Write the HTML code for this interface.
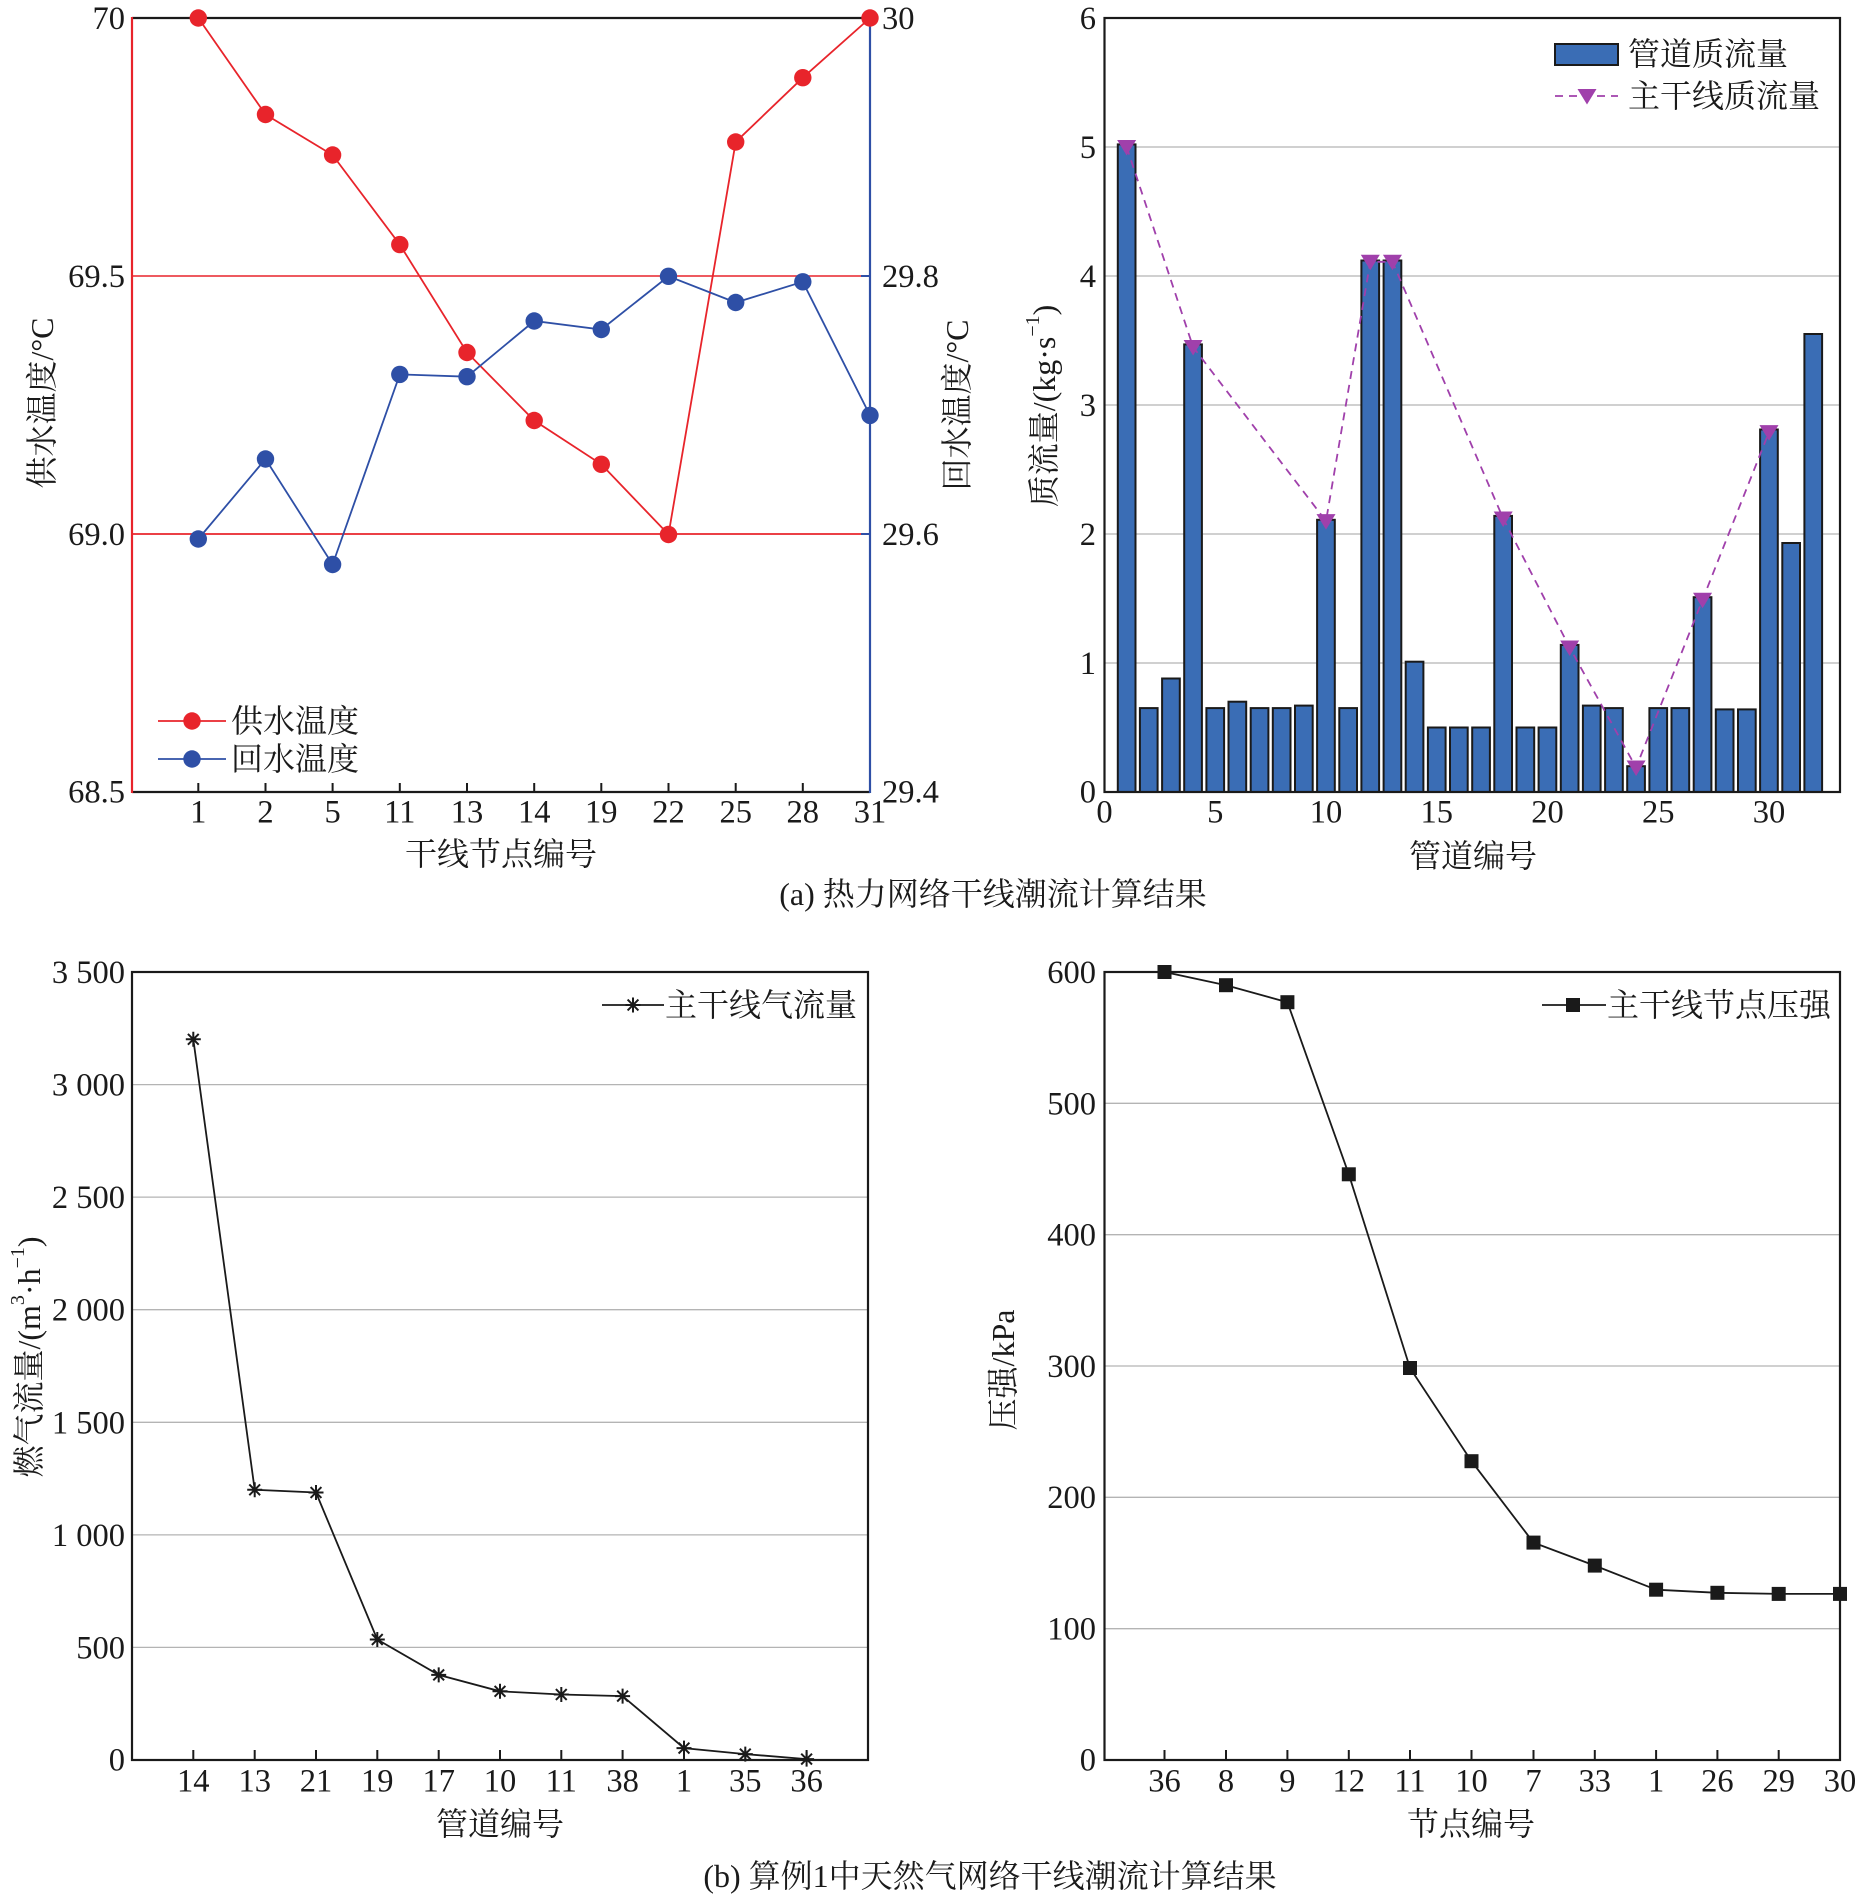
<!DOCTYPE html>
<html><head><meta charset="utf-8"><style>
html,body{margin:0;padding:0;background:#fff}
svg{display:block}
text{font-family:"Liberation Serif","Noto Serif CJK SC",serif;fill:#1a1a1a}
.t{font-size:32.5px}
.c{font-size:32px}
</style></head><body>
<svg width="1871" height="1899" viewBox="0 0 1871 1899" xmlns="http://www.w3.org/2000/svg">
<defs>
<g id="star"><path d="M-7.5 0H7.5M0 -7.5V7.5M-5.4 -5.4L5.4 5.4M-5.4 5.4L5.4 -5.4" stroke="#1a1a1a" stroke-width="2" fill="none"/></g>
<g id="tri"><path d="M-9.5 -7L9.5 -7L0 8.5Z" fill="#a040ab"/></g>
<g id="sq"><rect x="-7" y="-7" width="14" height="14" fill="#1a1a1a"/></g>
</defs>

<!-- ============ TOP-LEFT ============ -->
<g>
<line x1="132" y1="276" x2="862" y2="276" stroke="#e8242b" stroke-width="1.5"/>
<line x1="132" y1="534" x2="862" y2="534" stroke="#e8242b" stroke-width="1.8"/>
<line x1="861" y1="276" x2="870" y2="276" stroke="#2e4fa6" stroke-width="2"/>
<line x1="861" y1="534" x2="870" y2="534" stroke="#2e4fa6" stroke-width="2"/>
<line x1="132" y1="18" x2="870" y2="18" stroke="#1a1a1a" stroke-width="2.2"/>
<line x1="132" y1="792" x2="870" y2="792" stroke="#1a1a1a" stroke-width="2.2"/>
<line x1="132" y1="17" x2="132" y2="793" stroke="#e8242b" stroke-width="2.2"/>
<line x1="870" y1="17" x2="870" y2="793" stroke="#2e4fa6" stroke-width="2.2"/>
<g stroke="#1a1a1a" stroke-width="2">
<line x1="198.3" y1="792" x2="198.3" y2="783"/><line x1="265.5" y1="792" x2="265.5" y2="783"/>
<line x1="332.6" y1="792" x2="332.6" y2="783"/><line x1="399.8" y1="792" x2="399.8" y2="783"/>
<line x1="467" y1="792" x2="467" y2="783"/><line x1="534.2" y1="792" x2="534.2" y2="783"/>
<line x1="601.3" y1="792" x2="601.3" y2="783"/><line x1="668.5" y1="792" x2="668.5" y2="783"/>
<line x1="735.7" y1="792" x2="735.7" y2="783"/><line x1="802.8" y1="792" x2="802.8" y2="783"/>
</g>
<polyline fill="none" stroke="#e8242b" stroke-width="1.8" points="198.3,18 265.5,114.5 332.6,155 399.8,244.6 467,352.5 534.2,420.5 601.3,464.3 668.5,534.5 735.7,142 802.8,77.7 870,18"/>
<polyline fill="none" stroke="#2e4fa6" stroke-width="1.8" points="198.3,539 265.5,459 332.6,564.5 399.8,374.4 467,376.7 534.2,321 601.3,329.5 668.5,276.3 735.7,302.5 802.8,281.8 870,415.4"/>
<g fill="#e8242b">
<circle cx="198.3" cy="18" r="8.7"/><circle cx="265.5" cy="114.5" r="8.7"/><circle cx="332.6" cy="155" r="8.7"/>
<circle cx="399.8" cy="244.6" r="8.7"/><circle cx="467" cy="352.5" r="8.7"/><circle cx="534.2" cy="420.5" r="8.7"/>
<circle cx="601.3" cy="464.3" r="8.7"/><circle cx="668.5" cy="534.5" r="8.7"/><circle cx="735.7" cy="142" r="8.7"/>
<circle cx="802.8" cy="77.7" r="8.7"/><circle cx="870" cy="18" r="8.7"/>
</g>
<g fill="#2e4fa6">
<circle cx="198.3" cy="539" r="8.7"/><circle cx="265.5" cy="459" r="8.7"/><circle cx="332.6" cy="564.5" r="8.7"/>
<circle cx="399.8" cy="374.4" r="8.7"/><circle cx="467" cy="376.7" r="8.7"/><circle cx="534.2" cy="321" r="8.7"/>
<circle cx="601.3" cy="329.5" r="8.7"/><circle cx="668.5" cy="276.3" r="8.7"/><circle cx="735.7" cy="302.5" r="8.7"/>
<circle cx="802.8" cy="281.8" r="8.7"/><circle cx="870" cy="415.4" r="8.7"/>
</g>
<!-- legend -->
<line x1="158" y1="721" x2="226" y2="721" stroke="#e8242b" stroke-width="1.8"/>
<circle cx="192" cy="721" r="8.7" fill="#e8242b"/>
<text class="c" x="231" y="721" dominant-baseline="central">供水温度</text>
<line x1="158" y1="759" x2="226" y2="759" stroke="#2e4fa6" stroke-width="1.8"/>
<circle cx="192" cy="759" r="8.7" fill="#2e4fa6"/>
<text class="c" x="231" y="759" dominant-baseline="central">回水温度</text>
<!-- tick labels -->
<g class="t" text-anchor="end">
<text x="125" y="29">70</text><text x="125" y="287">69.5</text><text x="125" y="545">69.0</text><text x="125" y="802.5">68.5</text>
</g>
<g class="t">
<text x="882" y="29">30</text><text x="882" y="287">29.8</text><text x="882" y="545">29.6</text><text x="882" y="802.5">29.4</text>
</g>
<g class="t" text-anchor="middle">
<text x="198.3" y="822.5">1</text><text x="265.5" y="822.5">2</text><text x="332.6" y="822.5">5</text><text x="399.8" y="822.5">11</text>
<text x="467" y="822.5">13</text><text x="534.2" y="822.5">14</text><text x="601.3" y="822.5">19</text><text x="668.5" y="822.5">22</text>
<text x="735.7" y="822.5">25</text><text x="802.8" y="822.5">28</text><text x="870" y="822.5">31</text>
</g>
<text class="c" x="501" y="854" text-anchor="middle" dominant-baseline="central">干线节点编号</text>
<text class="c" transform="translate(42,403) rotate(-90)" text-anchor="middle" dominant-baseline="central">供水温度/°C</text>
<text class="c" transform="translate(957,405) rotate(-90)" text-anchor="middle" dominant-baseline="central">回水温度/°C</text>
</g>

<!-- ============ TOP-RIGHT ============ -->
<g>
<g stroke="#b4b4b4" stroke-width="1.3">
<line x1="1104.5" y1="663" x2="1840" y2="663"/><line x1="1104.5" y1="534" x2="1840" y2="534"/>
<line x1="1104.5" y1="405" x2="1840" y2="405"/><line x1="1104.5" y1="276" x2="1840" y2="276"/>
<line x1="1104.5" y1="147" x2="1840" y2="147"/>
</g>
<g fill="#3a6db5" stroke="#1a1a1a" stroke-width="2">
<rect x="1117.8" y="144.4" width="17.7" height="647.6"/>
<rect x="1139.9" y="708.1" width="17.7" height="83.9"/>
<rect x="1162.1" y="678.5" width="17.7" height="113.5"/>
<rect x="1184.2" y="344.4" width="17.7" height="447.6"/>
<rect x="1206.4" y="708.1" width="17.7" height="83.9"/>
<rect x="1228.5" y="701.7" width="17.7" height="90.3"/>
<rect x="1250.7" y="708.1" width="17.7" height="83.9"/>
<rect x="1272.8" y="708.1" width="17.7" height="83.9"/>
<rect x="1295.0" y="705.6" width="17.7" height="86.4"/>
<rect x="1317.1" y="519.8" width="17.7" height="272.2"/>
<rect x="1339.3" y="708.1" width="17.7" height="83.9"/>
<rect x="1361.4" y="260.5" width="17.7" height="531.5"/>
<rect x="1383.6" y="260.5" width="17.7" height="531.5"/>
<rect x="1405.7" y="661.7" width="17.7" height="130.3"/>
<rect x="1427.9" y="727.5" width="17.7" height="64.5"/>
<rect x="1450.0" y="727.5" width="17.7" height="64.5"/>
<rect x="1472.2" y="727.5" width="17.7" height="64.5"/>
<rect x="1494.3" y="515.9" width="17.7" height="276.1"/>
<rect x="1516.5" y="727.5" width="17.7" height="64.5"/>
<rect x="1538.6" y="727.5" width="17.7" height="64.5"/>
<rect x="1560.8" y="644.9" width="17.7" height="147.1"/>
<rect x="1582.9" y="705.6" width="17.7" height="86.4"/>
<rect x="1605.1" y="708.1" width="17.7" height="83.9"/>
<rect x="1627.2" y="766.2" width="17.7" height="25.8"/>
<rect x="1649.4" y="708.1" width="17.7" height="83.9"/>
<rect x="1671.5" y="708.1" width="17.7" height="83.9"/>
<rect x="1693.7" y="597.2" width="17.7" height="194.8"/>
<rect x="1715.8" y="709.4" width="17.7" height="82.6"/>
<rect x="1738.0" y="709.4" width="17.7" height="82.6"/>
<rect x="1760.1" y="429.5" width="17.7" height="362.5"/>
<rect x="1782.3" y="543" width="17.7" height="249"/>
<rect x="1804.4" y="334" width="17.7" height="458"/>
</g>
<rect x="1104.5" y="18" width="735.5" height="774" fill="none" stroke="#1a1a1a" stroke-width="2.2"/>
<polyline fill="none" stroke="#a040ab" stroke-width="1.8" stroke-dasharray="8 6" points="1126.65,147 1193.1,347 1326,521.1 1370.3,261.8 1392.45,261.8 1503.2,518.5 1569.65,647.5 1636.1,767.5 1702.55,599.8 1769,432.1"/>
<use href="#tri" x="1126.65" y="147"/><use href="#tri" x="1193.1" y="347"/><use href="#tri" x="1326" y="521.1"/>
<use href="#tri" x="1370.3" y="261.8"/><use href="#tri" x="1392.45" y="261.8"/><use href="#tri" x="1503.2" y="518.5"/>
<use href="#tri" x="1569.65" y="647.5"/><use href="#tri" x="1636.1" y="767.5"/><use href="#tri" x="1702.55" y="599.8"/>
<use href="#tri" x="1769" y="432.1"/>
<!-- legend -->
<rect x="1555" y="44" width="63" height="21" fill="#3a6db5" stroke="#1a1a1a" stroke-width="2"/>
<text class="c" x="1628" y="54" dominant-baseline="central">管道质流量</text>
<line x1="1555" y1="96" x2="1618" y2="96" stroke="#a040ab" stroke-width="1.8" stroke-dasharray="8 6"/>
<use href="#tri" x="1587" y="96"/>
<text class="c" x="1628" y="96" dominant-baseline="central">主干线质流量</text>
<g class="t" text-anchor="end">
<text x="1096" y="802.5">0</text><text x="1096" y="674">1</text><text x="1096" y="545">2</text><text x="1096" y="416">3</text>
<text x="1096" y="287">4</text><text x="1096" y="158">5</text><text x="1096" y="29">6</text>
</g>
<g class="t" text-anchor="middle">
<text x="1104.5" y="822.5">0</text><text x="1215.25" y="822.5">5</text><text x="1326" y="822.5">10</text><text x="1436.75" y="822.5">15</text>
<text x="1547.5" y="822.5">20</text><text x="1658.25" y="822.5">25</text><text x="1769" y="822.5">30</text>
</g>
<text class="c" x="1473" y="856" text-anchor="middle" dominant-baseline="central">管道编号</text>
<text class="c" transform="translate(1044,406) rotate(-90)" text-anchor="middle" dominant-baseline="central">质流量/(kg·s<tspan font-size="20" baseline-shift="super">−1</tspan>)</text>
</g>

<text class="c" x="993" y="894" text-anchor="middle" dominant-baseline="central">(a) 热力网络干线潮流计算结果</text>

<!-- ============ BOTTOM-LEFT ============ -->
<g>
<g stroke="#b4b4b4" stroke-width="1.3">
<line x1="132" y1="1647.4" x2="868" y2="1647.4"/><line x1="132" y1="1534.9" x2="868" y2="1534.9"/>
<line x1="132" y1="1422.3" x2="868" y2="1422.3"/><line x1="132" y1="1309.7" x2="868" y2="1309.7"/>
<line x1="132" y1="1197.1" x2="868" y2="1197.1"/><line x1="132" y1="1084.6" x2="868" y2="1084.6"/>
</g>
<rect x="132" y="972" width="736" height="788" fill="none" stroke="#1a1a1a" stroke-width="2.2"/>
<g stroke="#1a1a1a" stroke-width="2">
<line x1="193.3" y1="1760" x2="193.3" y2="1750"/><line x1="254.7" y1="1760" x2="254.7" y2="1750"/>
<line x1="316" y1="1760" x2="316" y2="1750"/><line x1="377.3" y1="1760" x2="377.3" y2="1750"/>
<line x1="438.7" y1="1760" x2="438.7" y2="1750"/><line x1="500" y1="1760" x2="500" y2="1750"/>
<line x1="561.3" y1="1760" x2="561.3" y2="1750"/><line x1="622.6" y1="1760" x2="622.6" y2="1750"/>
<line x1="684" y1="1760" x2="684" y2="1750"/><line x1="745.3" y1="1760" x2="745.3" y2="1750"/>
<line x1="806.6" y1="1760" x2="806.6" y2="1750"/>
</g>
<polyline fill="none" stroke="#1a1a1a" stroke-width="1.8" points="193.3,1039.3 254.7,1489.8 316,1492.5 377.3,1639.5 438.7,1674.9 500,1691.3 561.3,1694.5 622.6,1696.1 684,1748.1 745.3,1754.1 806.6,1759.1"/>
<use href="#star" x="193.3" y="1039.3"/><use href="#star" x="254.7" y="1489.8"/><use href="#star" x="316" y="1492.5"/>
<use href="#star" x="377.3" y="1639.5"/><use href="#star" x="438.7" y="1674.9"/><use href="#star" x="500" y="1691.3"/>
<use href="#star" x="561.3" y="1694.5"/><use href="#star" x="622.6" y="1696.1"/><use href="#star" x="684" y="1748.1"/>
<use href="#star" x="745.3" y="1754.1"/><use href="#star" x="806.6" y="1759.1"/>
<line x1="602" y1="1005" x2="664" y2="1005" stroke="#1a1a1a" stroke-width="1.8"/>
<use href="#star" x="633" y="1005"/>
<text class="c" x="665" y="1005" dominant-baseline="central">主干线气流量</text>
<g class="t" text-anchor="end">
<text x="125" y="1770.5">0</text><text x="125" y="1658.5">500</text><text x="125" y="1546">1 000</text>
<text x="125" y="1433.5">1 500</text><text x="125" y="1320.5">2 000</text><text x="125" y="1208">2 500</text>
<text x="125" y="1095.5">3 000</text><text x="125" y="983">3 500</text>
</g>
<g class="t" text-anchor="middle">
<text x="193.3" y="1791.5">14</text><text x="254.7" y="1791.5">13</text><text x="316" y="1791.5">21</text><text x="377.3" y="1791.5">19</text>
<text x="438.7" y="1791.5">17</text><text x="500" y="1791.5">10</text><text x="561.3" y="1791.5">11</text><text x="622.6" y="1791.5">38</text>
<text x="684" y="1791.5">1</text><text x="745.3" y="1791.5">35</text><text x="806.6" y="1791.5">36</text>
</g>
<text class="c" x="500" y="1824" text-anchor="middle" dominant-baseline="central">管道编号</text>
<text class="c" transform="translate(29,1357) rotate(-90)" text-anchor="middle" dominant-baseline="central">燃气流量/(m<tspan font-size="20" baseline-shift="super">3</tspan>·h<tspan font-size="20" baseline-shift="super">−1</tspan>)</text>
</g>

<!-- ============ BOTTOM-RIGHT ============ -->
<g>
<g stroke="#b4b4b4" stroke-width="1.3">
<line x1="1104.5" y1="1628.7" x2="1840" y2="1628.7"/><line x1="1104.5" y1="1497.3" x2="1840" y2="1497.3"/>
<line x1="1104.5" y1="1366" x2="1840" y2="1366"/><line x1="1104.5" y1="1234.7" x2="1840" y2="1234.7"/>
<line x1="1104.5" y1="1103.3" x2="1840" y2="1103.3"/>
</g>
<rect x="1104.5" y="972" width="735.5" height="788" fill="none" stroke="#1a1a1a" stroke-width="2.2"/>
<g stroke="#1a1a1a" stroke-width="2">
<line x1="1164.5" y1="1760" x2="1164.5" y2="1750"/><line x1="1226" y1="1760" x2="1226" y2="1750"/>
<line x1="1287.4" y1="1760" x2="1287.4" y2="1750"/><line x1="1348.8" y1="1760" x2="1348.8" y2="1750"/>
<line x1="1410" y1="1760" x2="1410" y2="1750"/><line x1="1471.5" y1="1760" x2="1471.5" y2="1750"/>
<line x1="1533.5" y1="1760" x2="1533.5" y2="1750"/><line x1="1594.8" y1="1760" x2="1594.8" y2="1750"/>
<line x1="1656.1" y1="1760" x2="1656.1" y2="1750"/><line x1="1717.4" y1="1760" x2="1717.4" y2="1750"/>
<line x1="1778.7" y1="1760" x2="1778.7" y2="1750"/>
</g>
<polyline fill="none" stroke="#1a1a1a" stroke-width="1.8" points="1164.5,972 1226,985.2 1287.4,1002.2 1348.8,1174.3 1410,1368 1471.5,1461.2 1533.5,1542.6 1594.8,1565.6 1656.1,1589.7 1717.4,1592.8 1778.7,1593.9 1840,1593.9"/>
<use href="#sq" x="1164.5" y="972"/><use href="#sq" x="1226" y="985.2"/><use href="#sq" x="1287.4" y="1002.2"/>
<use href="#sq" x="1348.8" y="1174.3"/><use href="#sq" x="1410" y="1368"/><use href="#sq" x="1471.5" y="1461.2"/>
<use href="#sq" x="1533.5" y="1542.6"/><use href="#sq" x="1594.8" y="1565.6"/><use href="#sq" x="1656.1" y="1589.7"/>
<use href="#sq" x="1717.4" y="1592.8"/><use href="#sq" x="1778.7" y="1593.9"/><use href="#sq" x="1840" y="1593.9"/>
<line x1="1542" y1="1005" x2="1606" y2="1005" stroke="#1a1a1a" stroke-width="1.8"/>
<use href="#sq" x="1573" y="1005"/>
<text class="c" x="1607" y="1005" dominant-baseline="central">主干线节点压强</text>
<g class="t" text-anchor="end">
<text x="1096" y="1770.5">0</text><text x="1096" y="1639.5">100</text><text x="1096" y="1508">200</text>
<text x="1096" y="1377">300</text><text x="1096" y="1245.5">400</text><text x="1096" y="1114.5">500</text>
<text x="1096" y="983">600</text>
</g>
<g class="t" text-anchor="middle">
<text x="1164.5" y="1791.5">36</text><text x="1226" y="1791.5">8</text><text x="1287.4" y="1791.5">9</text><text x="1348.8" y="1791.5">12</text>
<text x="1410" y="1791.5">11</text><text x="1471.5" y="1791.5">10</text><text x="1533.5" y="1791.5">7</text><text x="1594.8" y="1791.5">33</text>
<text x="1656.1" y="1791.5">1</text><text x="1717.4" y="1791.5">26</text><text x="1778.7" y="1791.5">29</text><text x="1840" y="1791.5">30</text>
</g>
<text class="c" x="1471" y="1824" text-anchor="middle" dominant-baseline="central">节点编号</text>
<text class="c" transform="translate(1003,1370) rotate(-90)" text-anchor="middle" dominant-baseline="central">压强/kPa</text>
</g>

<text class="c" x="990" y="1876" text-anchor="middle" dominant-baseline="central">(b) 算例1中天然气网络干线潮流计算结果</text>
</svg>
</body></html>
